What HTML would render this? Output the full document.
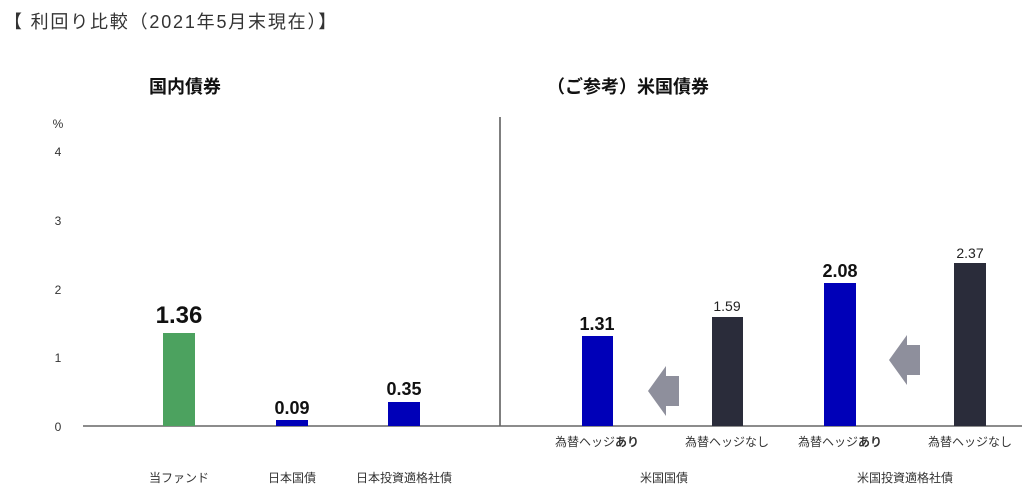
<!DOCTYPE html>
<html><head><meta charset="utf-8"><style>
body{margin:0;background:#fff;width:1024px;height:498px;overflow:hidden}
svg text{font-family:"Liberation Sans","Noto Sans CJK JP",sans-serif}
</style></head><body>
<svg width="1024" height="498" viewBox="0 0 1024 498">
<text x="4" y="28" font-size="18" fill="#333" letter-spacing="1.8">【 利回り比較（2021年5月末現在）】</text>
<text x="185" y="93" font-size="18" font-weight="bold" fill="#111" text-anchor="middle">国内債券</text>
<text x="628" y="93" font-size="18" font-weight="bold" fill="#111" text-anchor="middle">（ご参考）米国債券</text>
<g font-size="12" fill="#333" text-anchor="middle">
<text x="58" y="128">%</text>
<text x="58" y="156">4</text>
<text x="58" y="225">3</text>
<text x="58" y="294">2</text>
<text x="58" y="362">1</text>
<text x="58" y="431">0</text>
</g>
<line x1="500" y1="117" x2="500" y2="426" stroke="#555" stroke-width="1.5"/>
<line x1="83" y1="426" x2="1022" y2="426" stroke="#666" stroke-width="1.5"/>
<rect x="163" y="333" width="32" height="93" fill="#4ca25f"/>
<rect x="276" y="420" width="32" height="6" fill="#0000b8"/>
<rect x="388" y="402" width="32" height="24" fill="#0000b8"/>
<rect x="582" y="336" width="31" height="90" fill="#0000b8"/>
<rect x="712" y="317" width="31" height="109" fill="#2a2c3a"/>
<rect x="824" y="283" width="32" height="143" fill="#0000b8"/>
<rect x="954" y="263" width="32" height="163" fill="#2a2c3a"/>
<polygon points="648,391 666,366 666,376 679,376 679,406 666,406 666,416" fill="#8e8f9c"/>
<polygon points="889,360 907,335 907,345 920,345 920,375 907,375 907,385" fill="#8e8f9c"/>
<g text-anchor="middle" font-weight="bold" fill="#111">
<text x="179" y="323" font-size="24">1.36</text>
<text x="292" y="414" font-size="18">0.09</text>
<text x="404" y="395" font-size="18">0.35</text>
<text x="597" y="330" font-size="18">1.31</text>
<text x="840" y="277" font-size="18">2.08</text>
</g>
<g text-anchor="middle" fill="#222" font-size="14">
<text x="727" y="311">1.59</text>
<text x="970" y="258">2.37</text>
</g>
<g text-anchor="middle" fill="#333" font-size="12">
<text x="597" y="446">為替ヘッジ<tspan font-weight="bold">あり</tspan></text>
<text x="727" y="446">為替ヘッジなし</text>
<text x="840" y="446">為替ヘッジ<tspan font-weight="bold">あり</tspan></text>
<text x="970" y="446">為替ヘッジなし</text>
<text x="179" y="482">当ファンド</text>
<text x="292" y="482">日本国債</text>
<text x="404" y="482">日本投資適格社債</text>
<text x="664" y="482">米国国債</text>
<text x="905" y="482">米国投資適格社債</text>
</g>
</svg>
</body></html>
